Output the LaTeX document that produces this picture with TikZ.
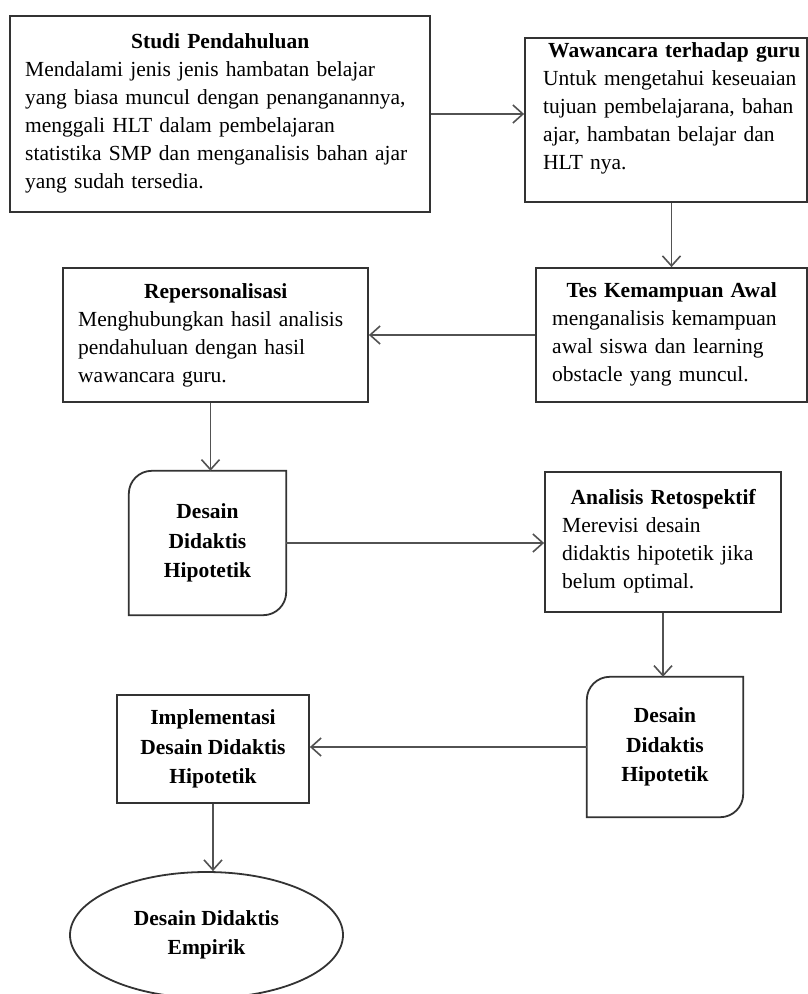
\documentclass[tikz,border=0pt]{standalone}
\usepackage{fontspec}
\setmainfont{Liberation Serif}
\usetikzlibrary{arrows.meta,shapes.geometric}
\newcommand\hdr[2]{\hbox to #1{\hss\bfseries #2\hss}}
\begin{document}
\begin{tikzpicture}[x=1pt,y=-1pt,
  boxline/.style={draw=black!80, line width=1.8pt, rectangle, inner sep=0pt},
  shapebox/.style={rectangle, inner sep=0pt},
  roundline/.style={draw=black!80, line width=1.8pt},
  txt/.style={anchor=north west, inner sep=0pt, align=left, text width=420pt,
    font=\fontsize{21.5}{28}\selectfont},
  btxt/.style={align=center, inner sep=0pt, font=\fontsize{21.5}{29.5}\selectfont\bfseries},
  conn/.style={draw=black!68, line width=1.6pt, -{Straight Barb[length=10pt,width=18pt,line width=1.6pt]}},
]
\useasboundingbox (0,0) rectangle (808,994);

% boxes
\node[boxline, minimum width=420pt, minimum height=196pt] (b1) at (220,114) {};
\node[boxline, minimum width=282pt, minimum height=164pt] (b2) at (666,120) {};
\node[boxline, minimum width=271pt, minimum height=134pt] (b3) at (671.5,335) {};
\node[boxline, minimum width=305pt, minimum height=134pt] (b4) at (215.5,335) {};
\node[shapebox, minimum width=157pt, minimum height=144pt] (b5) at (207.5,543) {};
\node[boxline, minimum width=236pt, minimum height=140pt] (b6) at (663,542) {};
\node[shapebox, minimum width=156pt, minimum height=140pt] (b7) at (665,747) {};
\node[boxline, minimum width=192pt, minimum height=108pt] (b8) at (213,749) {};
\node[ellipse, draw=black!80, line width=1.8pt, inner sep=0pt,
      minimum width=273pt, minimum height=126pt] (e) at (206.5,935) {};

% rounded-corner shapes
\foreach \b in {b5,b7}{
  \draw[roundline] (\b.north east) -- ([yshift=23pt]\b.south east)
    arc[start angle=0,end angle=-90,radius=23pt] -- (\b.south west)
    -- ([yshift=-23pt]\b.north west)
    arc[start angle=180,end angle=90,radius=23pt] -- cycle;
}

% texts
\node[txt] (t1) at (25,33) {\hdr{390pt}{Studi Pendahuluan}\\
Mendalami jenis jenis hambatan belajar\\
yang biasa muncul dengan penanganannya,\\
menggali HLT dalam pembelajaran\\
statistika SMP dan menganalisis bahan ajar\\
yang sudah tersedia.};

\node[txt] (t2) at (543,42) {\hdr{262pt}{Wawancara terhadap guru}\\
Untuk mengetahui keseuaian\\
tujuan pembelajarana, bahan\\
ajar, hambatan belajar dan\\
HLT nya.};

\node[txt] (t3) at (552,282) {\hdr{239pt}{Tes Kemampuan Awal}\\
menganalisis kemampuan\\
awal siswa dan learning\\
obstacle yang muncul.};

\node[txt] (t4) at (78,283) {\hdr{275pt}{Repersonalisasi}\\
Menghubungkan hasil analisis\\
pendahuluan dengan hasil\\
wawancara guru.};

\node[btxt] (t5) at (b5) {Desain\\Didaktis\\Hipotetik};

\node[txt] (t6) at (562,489) {\hdr{202pt}{Analisis Retospektif}\\
Merevisi desain\\
didaktis hipotetik jika\\
belum optimal.};

\node[btxt] (t7) at (b7) {Desain\\Didaktis\\Hipotetik};
\node[btxt] (t8) at (b8) {Implementasi\\Desain Didaktis\\Hipotetik};
\node[btxt] (t9) at (e) {Desain Didaktis\\Empirik};

% connectors
\draw[conn] (b1.east) -- (b1.east -| b2.west);
\draw[conn] (b3.north |- b2.south) -- (b3.north);
\draw[conn] (b3.west) -- (b4.east);
\draw[conn] ([xshift=3pt]b5.north |- b4.south) -- ([xshift=3pt]b5.north);
\draw[conn] (b5.east) -- (b5.east -| b6.west);
\draw[conn] (b6.south) -- (b7.north -| b6.south);
\draw[conn] (b7.west) -- (b7.west -| b8.east);
\draw[conn] (b8.south) -- (e.north -| b8.south);
\end{tikzpicture}
\end{document}
